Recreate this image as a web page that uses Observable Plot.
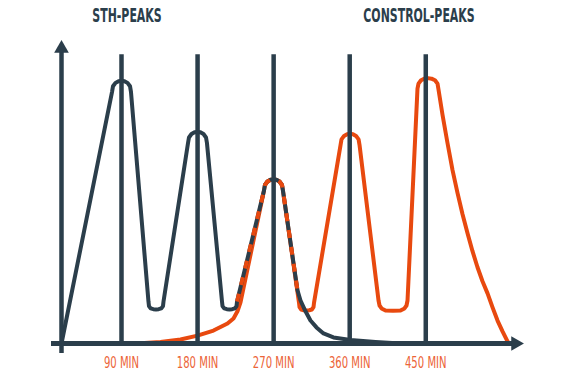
<!DOCTYPE html>
<html>
<head>
<meta charset="utf-8">
<script src="https://cdn.jsdelivr.net/npm/d3@7"></script>
<script src="https://cdn.jsdelivr.net/npm/@observablehq/plot@0.6"></script>
<style>
  html, body { margin: 0; padding: 0; background: #fff; }
  #wrap { position: relative; width: 576px; height: 376px; overflow: hidden; }
  .title { position: absolute; top: 6px; line-height: 19px; transform: translateX(-50%) scaleX(0.64); white-space: nowrap;
    font-family: "DejaVu Sans Condensed", "DejaVu Sans", sans-serif; font-weight: bold;
    font-size: 19px; color: #2b3e4b; z-index: 2; }
</style>
</head>
<body>
<div id="wrap">
  <div class="title" style="left:127px">STH-PEAKS</div>
  <div class="title" style="left:419px">CONSTROL-PEAKS</div>
</div>
<script>
// time in minutes, value = relative level
const sthTime = [19,
  78.8, 79.9, 82.9, 86.5, 90, 93.5, 97.1, 100.1, 101.2,
  121.9, 122.5, 124.5, 127.6, 130.8, 134, 137.1, 139.1, 139.7,
  168.7, 169.8, 172.8, 176.4, 179.9, 183.4, 187, 190, 191.1,
  208.9, 209.5, 211.5, 214.6, 217.8, 221, 224.1, 226.1, 226.7,
  258.6, 259.7, 262.7, 266.3, 269.8, 273.3, 276.9, 279.9, 281,
  298.2, 301.8, 307.7, 313.6, 320.7, 329, 340.8, 361, 390.5, 420];
const sthValue = [0,
  95.4, 97.5, 98.8, 99.45, 99.6, 99.45, 98.8, 97.5, 95.4,
  15.9, 14.2, 13.3, 13.0, 12.9, 13.0, 13.3, 14.2, 15.9,
  76.0, 78.1, 79.4, 80.05, 80.2, 80.05, 79.4, 78.1, 76.0,
  15.9, 14.2, 13.3, 13.0, 12.9, 13.0, 13.3, 14.2, 15.9,
  58.0, 60.1, 61.4, 62.05, 62.2, 62.05, 61.4, 60.1, 58.0,
  20.2, 16.3, 12.2, 8.7, 6.1, 3.8, 2.3, 1.3, 0.6, 0];

const ctrlTime = [100.6, 112.5, 136.1, 159.8, 179.9, 198.8, 215.4, 222.5, 227.2, 230.8,
  258.6, 259.7, 262.7, 266.3, 269.8, 273.3, 276.9, 279.9, 281,
  300.0, 300.6, 302.6, 305.7, 308.9, 312.1, 315.2, 317.2, 317.8,
  349.2, 350.3, 353.3, 356.9, 360.4, 363.9, 367.5, 370.5, 371.6,
  394.1, 395.3, 397.7, 402.4, 411.2, 420.1, 424.8, 427.2, 428.4,
  440.2, 441.4, 444.4, 448.5, 452.6, 456.8, 460.9, 463.9, 465.1,
  469.8, 475.7, 481.6, 487.6, 493.5, 499.4, 505.3, 511.2, 517.1, 523.1, 529.0, 534.9, 540.8, 546.7, 549];
const ctrlValue = [0, 0.1, 0.6, 1.5, 3.0, 4.9, 7.6, 9.5, 12.2, 15.6,
  58.0, 60.1, 61.4, 62.05, 62.2, 62.05, 61.4, 60.1, 58.0,
  15.5, 13.8, 12.9, 12.6, 12.5, 12.6, 12.9, 13.8, 15.5,
  75.3, 77.4, 78.7, 79.35, 79.5, 79.35, 78.7, 77.4, 75.3,
  16.3, 14.4, 13.3, 12.5, 12.4, 12.5, 13.3, 14.4, 16.3,
  96.6, 98.5, 99.8, 100.4, 100.6, 100.4, 99.8, 98.5, 96.2,
  86.7, 76.0, 65.8, 57.0, 49.0, 41.8, 35.0, 28.9, 23.6, 19.0, 13.7, 8.7, 4.6, 0.8, 0];

const gridTimes = [90, 180, 270, 360, 450];
const tickSuffix = " MIN";
const gridTop = 109.5;
const xDomain = [19, 568];
const yDomain = [0, 116];
const sharedRange = [226.5, 298.5];

const dark = "#2b3e4b";
const orange = "#e8490f";
const labelOrange = "#ec6438";
const labelFont = '"DejaVu Sans Condensed", "DejaVu Sans", sans-serif';

const sth = sthTime.map((t, i) => ({t, v: sthValue[i]}));
const ctrl = ctrlTime.map((t, i) => ({t, v: ctrlValue[i]}));
const shared = sth.filter(d => d.t >= sharedRange[0] && d.t <= sharedRange[1]);

const lineOpts = {x: "t", y: "v", strokeWidth: 4, strokeLinejoin: "round", strokeLinecap: "round"};

const chart = Plot.plot({
  width: 576,
  height: 376,
  marginLeft: 61,
  marginRight: 51,
  marginTop: 37,
  marginBottom: 33,
  style: {background: "transparent"},
  x: {domain: xDomain},
  y: {domain: yDomain, axis: null},
  marks: [
    Plot.axisX({ticks: gridTimes, tickSize: 0, tickPadding: 13, tickFormat: d => d + tickSuffix,
      fill: labelOrange, fontSize: 16.5, fontFamily: labelFont, fontWeight: "normal", label: null}),
    Plot.line(ctrl, {...lineOpts, stroke: orange}),
    Plot.line(sth, {...lineOpts, stroke: dark}),
    Plot.line(shared, {...lineOpts, stroke: orange, strokeLinecap: "butt", strokeDasharray: "8,9"}),
    Plot.ruleX(gridTimes, {x: d => d, y1: 0, y2: gridTop, stroke: dark, strokeWidth: 4.5}),
    Plot.ruleX([xDomain[0]], {y1: 0, y2: yDomain[1], dy: 10, stroke: dark, strokeWidth: 4.5}),
    Plot.ruleY([0], {x1: xDomain[0], x2: xDomain[1], dx: -10, stroke: dark, strokeWidth: 5}),
    Plot.dot([{x: xDomain[0], y: yDomain[1]}], {x: "x", y: "y", dy: 11, symbol: "triangle2", r: 7, fill: dark, stroke: "none"}),
    Plot.dot([{x: xDomain[1], y: 0}], {x: "x", y: "y", dx: -10, symbol: "triangle2", r: 7, rotate: 90, fill: dark, stroke: "none"})
  ]
});
chart.style.position = "absolute";
chart.style.left = "0";
chart.style.top = "0";
document.getElementById("wrap").appendChild(chart);

// condense the tick labels horizontally around their anchor
const squeeze = 0.68;
d3.select(chart).selectAll('g[aria-label="x-axis tick label"] text').each(function() {
  const tr = this.getAttribute("transform");
  if (tr) {
    this.setAttribute("transform", tr + ` scale(${squeeze},1)`);
  } else {
    const x = +this.getAttribute("x") || 0;
    this.setAttribute("transform", `translate(${x},0) scale(${squeeze},1) translate(${-x},0)`);
  }
});
</script>
</body>
</html>
